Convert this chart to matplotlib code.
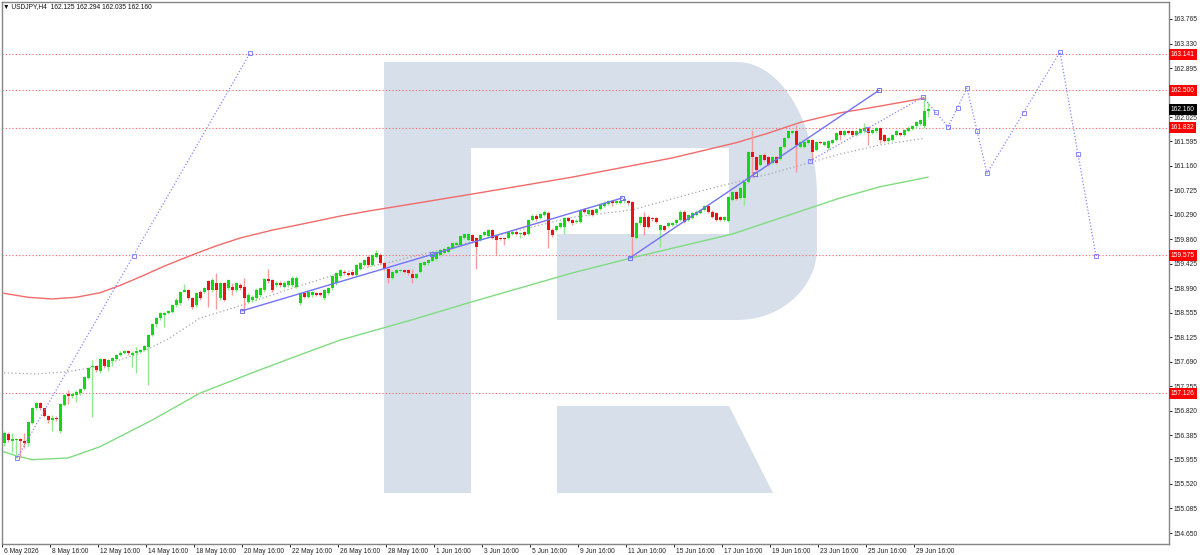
import numpy as np
import matplotlib
matplotlib.use("Agg")
import matplotlib.pyplot as plt
import matplotlib.transforms as mtransforms
from matplotlib.patches import Polygon

plt.rcParams['font.family'] = ['Liberation Sans', 'DejaVu Sans']

# USDJPY H4 candles, 6 May 2026 16:00 onwards
opens = [
    156.25, 156.41, 156.29, 156.30, 156.31, 156.29, 156.24, 156.60, 156.86, 156.95,
    156.86, 156.73, 156.66, 156.69, 156.45, 156.92, 157.12, 157.08, 157.10, 157.13,
    157.20, 157.40, 157.59, 157.61, 157.53, 157.73, 157.60, 157.70, 157.74, 157.81,
    157.85, 157.88, 157.81, 157.84, 157.86, 157.90, 157.94, 158.16, 158.36, 158.46,
    158.51, 158.55, 158.57, 158.69, 158.72, 158.93, 158.96, 158.81, 158.69, 158.93,
    158.93, 159.11, 158.96, 159.08, 158.81, 159.08, 158.99, 159.02, 158.96, 159.05,
    159.02, 158.75, 158.78, 158.81, 158.87, 158.96, 159.15, 159.14, 159.05, 159.09,
    159.02, 159.05, 159.05, 159.02, 158.72, 158.90, 158.84, 158.87, 158.90, 158.90,
    158.81, 158.90, 158.99, 159.08, 159.20, 159.28, 159.26, 159.28, 159.23, 159.34,
    159.40, 159.55, 159.40, 159.55, 159.58, 159.43, 159.34, 159.17, 159.26, 159.29,
    159.31, 159.31, 159.24, 159.18, 159.28, 159.40, 159.43, 159.48, 159.50, 159.58,
    159.62, 159.64, 159.70, 159.76, 159.76, 159.88, 159.85, 159.93, 159.88, 159.85,
    159.93, 159.91, 160.02, 159.91, 159.88, 159.88, 159.88, 159.96, 159.99, 159.96,
    159.98, 159.96, 160.20, 160.27, 160.23, 160.29, 160.33, 160.02, 160.02, 160.08,
    160.08, 160.23, 160.20, 160.16, 160.17, 160.39, 160.31, 160.38, 160.32, 160.39,
    160.45, 160.48, 160.53, 160.50, 160.51, 160.53, 160.53, 160.52, 159.88, 160.14,
    160.26, 160.26, 160.23, 160.23, 160.02, 160.09, 160.09, 160.11, 160.14, 160.20,
    160.35, 160.20, 160.23, 160.29, 160.32, 160.38, 160.45, 160.35, 160.32, 160.26,
    160.20, 160.19, 160.56, 160.70, 160.59, 160.59, 160.88, 161.41, 161.32, 161.18,
    161.35, 161.32, 161.21, 161.31, 161.29, 161.50, 161.65, 161.74, 161.77, 161.50,
    161.50, 161.56, 161.62, 161.44, 161.59, 161.53, 161.47, 161.56, 161.62, 161.77,
    161.71, 161.77, 161.77, 161.71, 161.74, 161.77, 161.83, 161.74, 161.77, 161.83,
    161.71, 161.60, 161.62, 161.71, 161.74, 161.71, 161.78, 161.82, 161.86, 161.91,
    161.86, 162.125,
]
highs = [
    156.45, 156.44, 156.42, 156.34, 156.34, 156.42, 156.62, 156.88, 156.98, 156.97,
    156.87, 156.74, 156.75, 156.72, 156.96, 157.12, 157.19, 157.13, 157.18, 157.22,
    157.43, 157.59, 157.72, 157.63, 157.75, 157.74, 157.74, 157.77, 157.83, 157.87,
    157.90, 157.90, 157.88, 157.95, 157.92, 157.99, 158.18, 158.38, 158.48, 158.57,
    158.57, 158.61, 158.71, 158.81, 158.95, 159.07, 158.98, 158.83, 158.92, 158.96,
    159.02, 159.13, 159.17, 159.26, 159.10, 159.10, 159.16, 159.08, 159.10, 159.08,
    159.17, 158.90, 158.87, 158.99, 159.02, 159.17, 159.34, 159.16, 159.11, 159.11,
    159.11, 159.13, 159.20, 159.20, 158.93, 158.92, 158.96, 158.95, 158.92, 158.92,
    158.98, 159.01, 159.22, 159.28, 159.33, 159.31, 159.28, 159.30, 159.42, 159.45,
    159.51, 159.58, 159.60, 159.66, 159.61, 159.46, 159.36, 159.30, 159.33, 159.33,
    159.33, 159.33, 159.34, 159.26, 159.45, 159.48, 159.51, 159.60, 159.66, 159.68,
    159.70, 159.74, 159.81, 159.82, 159.93, 159.97, 159.97, 159.95, 159.90, 159.95,
    160.01, 160.04, 160.04, 159.93, 159.90, 159.90, 160.00, 160.01, 160.01, 159.98,
    160.00, 160.22, 160.30, 160.30, 160.33, 160.37, 160.36, 160.05, 160.11, 160.17,
    160.25, 160.25, 160.22, 160.21, 160.40, 160.41, 160.40, 160.40, 160.41, 160.50,
    160.53, 160.55, 160.55, 160.55, 160.56, 160.59, 160.55, 160.53, 160.16, 160.28,
    160.35, 160.29, 160.25, 160.25, 160.13, 160.11, 160.16, 160.16, 160.22, 160.37,
    160.37, 160.31, 160.34, 160.37, 160.40, 160.47, 160.47, 160.37, 160.34, 160.28,
    160.28, 160.63, 160.72, 160.72, 160.78, 160.90, 161.43, 161.80, 161.34, 161.37,
    161.38, 161.34, 161.34, 161.33, 161.52, 161.67, 161.79, 161.80, 161.89, 161.61,
    161.62, 161.64, 161.64, 161.61, 161.61, 161.61, 161.62, 161.64, 161.76, 161.79,
    161.79, 161.79, 161.79, 161.79, 161.83, 161.92, 161.85, 161.82, 161.85, 161.85,
    161.73, 161.67, 161.73, 161.79, 161.76, 161.82, 161.86, 161.89, 161.95, 161.99,
    162.36, 162.294,
]
lows = [
    156.20, 156.26, 156.09, 155.98, 156.00, 156.15, 156.20, 156.58, 156.84, 156.83,
    156.70, 156.60, 156.45, 156.64, 156.42, 156.90, 156.93, 157.05, 156.98, 157.10,
    157.18, 157.38, 156.71, 157.50, 157.48, 157.58, 157.53, 157.62, 157.72, 157.79,
    157.83, 157.80, 157.60, 157.48, 157.84, 157.88, 157.27, 158.14, 158.31, 158.43,
    158.31, 158.53, 158.55, 158.66, 158.70, 158.92, 158.78, 158.62, 158.66, 158.78,
    158.90, 158.66, 158.93, 158.63, 158.78, 158.76, 158.96, 158.87, 158.93, 158.96,
    158.57, 158.72, 158.75, 158.78, 158.84, 158.93, 159.08, 158.93, 159.02, 159.02,
    159.00, 159.02, 159.02, 158.99, 158.69, 158.81, 158.81, 158.84, 158.85, 158.85,
    158.78, 158.87, 158.96, 159.05, 159.18, 159.23, 159.20, 159.20, 159.20, 159.31,
    159.38, 159.37, 159.38, 159.53, 159.40, 159.31, 159.08, 159.15, 159.24, 159.27,
    159.26, 159.23, 159.08, 159.16, 159.26, 159.38, 159.41, 159.46, 159.48, 159.56,
    159.60, 159.62, 159.68, 159.74, 159.74, 159.86, 159.83, 159.80, 159.34, 159.83,
    159.91, 159.89, 159.86, 159.58, 159.84, 159.76, 159.86, 159.94, 159.94, 159.88,
    159.91, 159.94, 160.18, 160.19, 160.21, 160.27, 159.70, 159.90, 160.00, 160.06,
    159.95, 160.17, 160.12, 160.14, 160.15, 160.33, 160.29, 160.27, 160.30, 160.37,
    160.43, 160.46, 160.44, 160.48, 160.49, 160.51, 160.47, 159.52, 159.86, 160.12,
    159.93, 160.05, 160.19, 160.15, 159.73, 160.00, 160.07, 160.09, 160.12, 160.18,
    160.15, 160.18, 160.21, 160.27, 160.30, 160.36, 160.33, 160.24, 160.18, 160.18,
    160.18, 160.17, 160.54, 160.55, 160.57, 160.47, 160.86, 160.97, 161.06, 161.16,
    161.24, 161.16, 161.19, 161.19, 161.27, 161.48, 161.63, 161.72, 161.06, 161.48,
    161.47, 161.54, 161.27, 161.42, 161.54, 161.51, 161.45, 161.54, 161.60, 161.62,
    161.69, 161.72, 161.69, 161.69, 161.72, 161.75, 161.53, 161.72, 161.75, 161.56,
    161.58, 161.58, 161.60, 161.69, 161.69, 161.69, 161.76, 161.80, 161.84, 161.89,
    161.84, 162.035,
]
closes = [
    156.42, 156.30, 156.31, 156.31, 156.28, 156.24, 156.61, 156.86, 156.95, 156.86,
    156.73, 156.66, 156.69, 156.67, 156.93, 157.10, 157.08, 157.11, 157.15, 157.20,
    157.41, 157.57, 157.61, 157.54, 157.73, 157.61, 157.72, 157.75, 157.81, 157.85,
    157.87, 157.84, 157.85, 157.88, 157.90, 157.97, 158.16, 158.36, 158.46, 158.55,
    158.55, 158.59, 158.69, 158.79, 158.93, 158.96, 158.81, 158.66, 158.90, 158.81,
    158.99, 158.96, 159.14, 158.96, 159.08, 158.79, 159.14, 158.96, 159.08, 158.99,
    158.81, 158.87, 158.84, 158.96, 158.99, 159.15, 159.11, 158.96, 159.09, 159.05,
    159.09, 159.11, 159.17, 159.17, 158.90, 158.84, 158.93, 158.93, 158.87, 158.87,
    158.96, 158.99, 159.20, 159.26, 159.31, 159.26, 159.22, 159.23, 159.40, 159.43,
    159.49, 159.40, 159.58, 159.61, 159.43, 159.34, 159.17, 159.28, 159.31, 159.31,
    159.28, 159.26, 159.17, 159.24, 159.43, 159.46, 159.49, 159.58, 159.64, 159.66,
    159.68, 159.72, 159.79, 159.80, 159.91, 159.95, 159.95, 159.82, 159.73, 159.93,
    159.99, 160.02, 159.88, 159.85, 159.86, 159.86, 159.98, 159.99, 159.96, 159.96,
    159.93, 160.20, 160.27, 160.21, 160.31, 160.35, 160.02, 159.93, 160.09, 160.15,
    160.23, 160.19, 160.14, 160.19, 160.38, 160.35, 160.38, 160.29, 160.39, 160.48,
    160.51, 160.53, 160.50, 160.53, 160.54, 160.57, 160.50, 159.90, 160.14, 160.26,
    160.08, 160.08, 160.21, 160.17, 160.11, 160.02, 160.14, 160.14, 160.20, 160.35,
    160.17, 160.29, 160.32, 160.35, 160.38, 160.45, 160.35, 160.26, 160.20, 160.20,
    160.26, 160.61, 160.70, 160.57, 160.76, 160.88, 161.41, 161.32, 161.09, 161.35,
    161.26, 161.18, 161.32, 161.21, 161.50, 161.65, 161.77, 161.77, 161.53, 161.59,
    161.59, 161.62, 161.41, 161.59, 161.56, 161.59, 161.60, 161.62, 161.74, 161.71,
    161.77, 161.74, 161.71, 161.77, 161.81, 161.84, 161.74, 161.80, 161.83, 161.62,
    161.60, 161.65, 161.71, 161.77, 161.71, 161.80, 161.84, 161.87, 161.93, 161.97,
    162.13, 162.160,
]

date_labels = ['6 May 2026', '8 May 16:00', '12 May 16:00', '14 May 16:00', '18 May 16:00',
               '20 May 16:00', '22 May 16:00', '26 May 16:00', '28 May 16:00', '1 Jun 16:00',
               '3 Jun 16:00', '5 Jun 16:00', '9 Jun 16:00', '11 Jun 16:00', '15 Jun 16:00',
               '17 Jun 16:00', '19 Jun 16:00', '23 Jun 16:00', '25 Jun 16:00', '29 Jun 16:00']
price_ticks = [163.765, 163.330, 162.895, 162.025, 161.595, 161.160, 160.725, 160.290,
               159.860, 159.425, 158.990, 158.555, 158.125, 157.690, 157.255, 156.820,
               156.385, 155.955, 155.520, 155.085, 154.650]
levels = [163.141, 162.500, 161.832, 159.575, 157.126]
last_price = 162.160

# moving averages (bar index, value)
red_ma_x = [0, 6, 12, 18, 24, 29, 34, 40, 47, 53, 59, 67, 76, 84, 92, 99, 117, 142, 167,
            183, 191, 199, 209, 219, 230]
red_ma_y = [158.90, 158.83, 158.80, 158.83, 158.91, 159.04, 159.19, 159.38, 159.58, 159.74,
            159.88, 160.02, 160.15, 160.27, 160.37, 160.45, 160.66, 160.96, 161.30,
            161.57, 161.74, 161.93, 162.10, 162.22, 162.36]
green_ma_x = [0, 3, 7, 16, 24, 37, 49, 62, 74, 84, 92, 102, 117, 142, 157, 182, 209, 219, 231]
green_ma_y = [156.09, 156.02, 155.95, 155.98, 156.18, 156.65, 157.13, 157.49, 157.81, 158.07, 158.23,
              158.43, 158.75, 159.26, 159.53, 159.95, 160.59, 160.79, 160.96]
gray_ma_x = [0, 8, 16, 24, 33, 41, 49, 59, 72, 84, 97, 122, 142, 157, 175, 192, 209, 219, 230]
gray_ma_y = [157.49, 157.47, 157.51, 157.61, 157.81, 158.09, 158.46, 158.68, 158.99, 159.26, 159.46,
             159.90, 160.25, 160.38, 160.73, 161.03, 161.37, 161.53, 161.65]

# drawn objects (bar index, price)
solid_lines = [([59.5, 154.5], [158.59, 160.59]),
               ([156.5, 218.75], [159.53, 162.50])]
dotted_lines = [([3.25, 61.5], [155.98, 163.16]),
                ([201.5, 229.75], [161.25, 162.38])]
forecast_x = [229.75, 236, 240.75, 245.75, 264, 273]
forecast_y = [162.38, 161.85, 162.54, 161.03, 163.18, 159.56]

W, H = 1200, 555
fig = plt.figure(figsize=(W / 100, H / 100), dpi=100)
ax = fig.add_axes([2 / W, 11 / H, 1167 / W, 542.5 / H])
ax.set_xlim(-0.5, 291.25)
ax.set_ylim(154.455, 164.075)

# watermark logo, in image pixels
px = mtransforms.Affine2D().scale(1 / W, -1 / H).translate(0, 1) + fig.transFigure
logo = '#d6dfea'
t1 = np.linspace(np.pi / 2, 0, 30)
t2 = np.linspace(0, -np.pi / 2, 30)
bowl = [(471, 62)] + [(737 + 80 * np.cos(t), 197 - 135 * np.sin(t)) for t in t1] \
    + [(737 + 80 * np.cos(t), 248 - 72 * np.sin(t)) for t in t2] \
    + [(557, 320), (557, 234), (729, 234), (729, 148), (471, 148)]
shapes = [[(384, 62), (471, 62), (471, 493), (384, 493)],
          bowl,
          [(557, 406), (729, 406), (773, 493), (557, 493)]]
for s in shapes:
    ax.add_patch(Polygon(s, closed=True, transform=px, fc=logo, ec='none', zorder=0.5))

for v in levels:
    ax.axhline(v, color='#ff6464', lw=0.8, ls=(0, (1, 2)), zorder=2)

ax.plot(red_ma_x, red_ma_y, color='#f26a6a', lw=1, zorder=2.5)
ax.plot(green_ma_x, green_ma_y, color='#80dc80', lw=1, zorder=2.5)
ax.plot(gray_ma_x, gray_ma_y, color='#a8a8a8', lw=0.9, ls=(0, (1, 2)), zorder=2.5)

# candles
o = np.array(opens)
h = np.array(highs)
l = np.array(lows)
c = np.array(closes)
x = np.arange(len(c))
up = c >= o
body = np.maximum(np.abs(c - o), 0.016)
ax.vlines(x[up], l[up], h[up], color='#92e892', lw=1, zorder=3)
ax.vlines(x[~up], l[~up], h[~up], color='#f29c9c', lw=1, zorder=3)
ax.bar(x[up], body[up], bottom=np.minimum(o, c)[up], width=0.75, color='#14d814', lw=0, zorder=4)
ax.bar(x[~up], body[~up], bottom=np.minimum(o, c)[~up], width=0.75, color='#ee1111', lw=0, zorder=4)

blue = '#7373f5'
for lx, ly in solid_lines:
    ax.plot(lx, ly, color=blue, lw=1, zorder=5)
    ax.plot([lx[0], np.mean(lx), lx[1]], [ly[0], np.mean(ly), ly[1]], ls='none', marker='s',
            ms=2.6, mfc='none', mec=blue, mew=0.7, zorder=5)
for lx, ly in dotted_lines:
    ax.plot(lx, ly, color='#8585ff', lw=0.9, ls=(0, (1, 1.6)), zorder=5)
    ax.plot([lx[0], np.mean(lx), lx[1]], [ly[0], np.mean(ly), ly[1]], ls='none', marker='s',
            ms=2.6, mfc='none', mec='#8585ff', mew=0.7, zorder=5)
fx = np.array(forecast_x)
fy = np.array(forecast_y)
ax.plot(fx, fy, color='#8585ff', lw=0.9, ls=(0, (1, 1.6)), zorder=5)
mx = np.concatenate([fx, (fx[:-1] + fx[1:]) / 2])
my = np.concatenate([fy, (fy[:-1] + fy[1:]) / 2])
ax.plot(mx, my, ls='none', marker='s', ms=2.6, mfc='none', mec='#8585ff', mew=0.7, zorder=5)

# axes
for sp in ax.spines.values():
    sp.set_color('#858585')
    sp.set_linewidth(1)
ax.yaxis.tick_right()
ax.set_yticks(price_ticks)
ax.set_yticklabels([f'{v:.3f}' for v in price_ticks])
ax.tick_params(axis='y', direction='out', length=2, width=0.7, colors='#222222',
               labelsize=4.8, pad=1)
ax.set_xticks(np.arange(len(date_labels)) * 12 - 0.5)
ax.set_xticklabels(date_labels, ha='left')
ax.tick_params(axis='x', direction='out', length=2.5, width=0.7, colors='#222222',
               labelsize=4.8, pad=0.5)
shift = mtransforms.ScaledTranslation(2 / 100, 0, fig.dpi_scale_trans)
for lbl in ax.get_xticklabels():
    lbl.set_transform(lbl.get_transform() + shift)

for v, fc in [(lv, '#ff0000') for lv in levels] + [(last_price, '#000000')]:
    ax.annotate(f'{v:.3f}', xy=(1, v), xycoords=('axes fraction', 'data'),
                xytext=(1.2, 0), textcoords='offset points', ha='left', va='center',
                fontsize=4.8, color='white', annotation_clip=False, zorder=10,
                bbox=dict(boxstyle='square,pad=0.3', fc=fc, ec='none'))

fig.text(3 / W, 1 - 6.5 / H, '▼ USDJPY,H4  162.125 162.294 162.035 162.160',
         fontsize=4.8, va='center', ha='left', color='#111111')

fig.savefig('out.png', dpi=100)
